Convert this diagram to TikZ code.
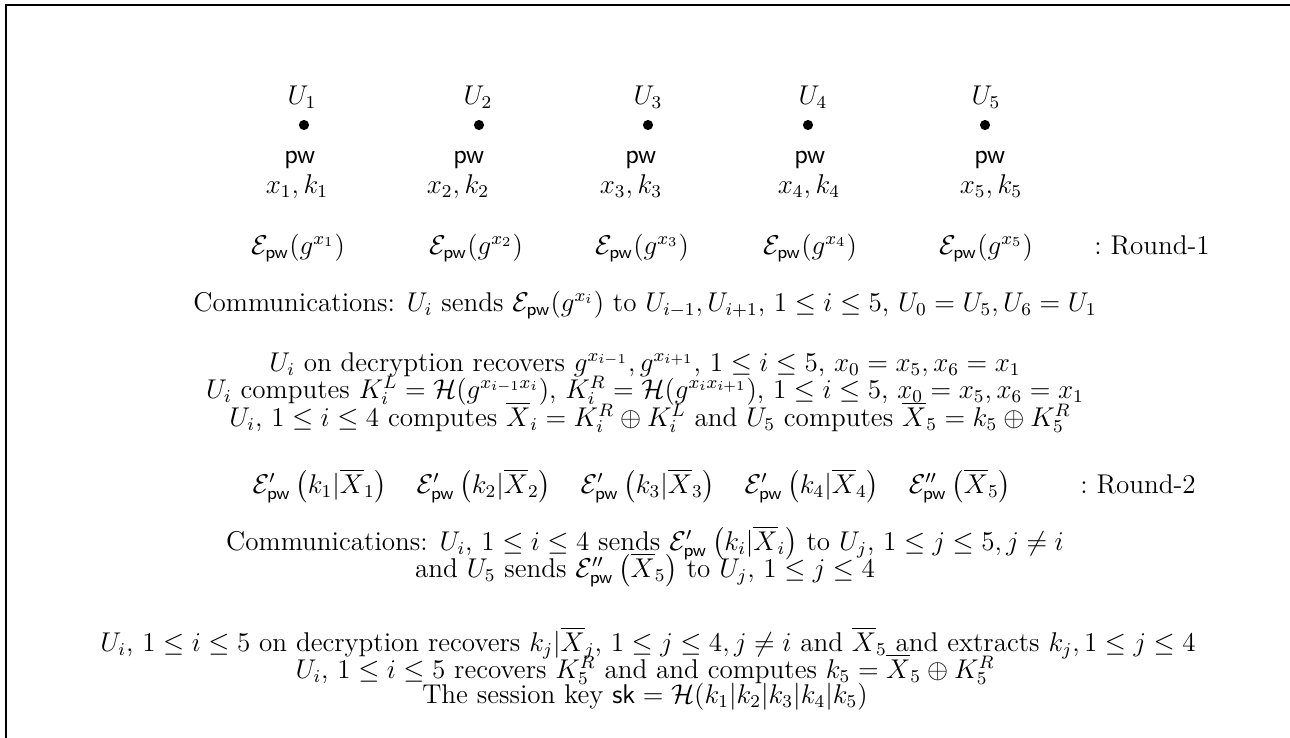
\documentclass[tikz,border=0pt]{standalone}
\usepackage{amsmath,amssymb}
\begin{document}
\begin{tikzpicture}[x=0.4425pt,y=-0.4425pt,
  every node/.append style={font=\fontsize{12}{14}\selectfont},
  txt/.style={inner sep=0pt,anchor=base},
  dotnode/.style={circle,fill=black,inner sep=0pt,minimum size=4.5pt},
  frame/.style={line width=1pt}]
\useasboundingbox (0,0) rectangle (1290,737);
\draw[frame] (6,745) -- (6,5) -- (1300,5);
% users
\foreach \i/\x in {1/302,2/478,3/648,4/813,5/986}{
  \node[txt] (U\i) at (\x,104) {$U_{\i}$};
}
\foreach \i/\x in {1/304,2/479,3/648,4/808,5/985}{
  \node[dotnode] (d\i) at (\x,125) {};
}
\foreach \i/\x in {1/300,2/469,3/641,4/810,5/990}{
  \node[txt] (pw\i) at (\x,163) {$\mathsf{pw}$};
}
\foreach \i/\x in {1/297,2/458,3/631,4/809,5/991}{
  \node[txt] (xk\i) at (\x,193) {$x_{\i},k_{\i}$};
}
\foreach \i/\x in {1/298,2/476,3/642,4/810,5/986}{
  \node[txt] (E\i) at (\x,254) {$\mathcal{E}_{\mathsf{pw}}(g^{x_{\i}})$};
}
\node[txt] (r1) at (1152,254) {$:$ Round-1};
\node[txt] (c1) at (645,311) {Communications: $U_i$ sends $\mathcal{E}_{\mathsf{pw}}(g^{x_i})$ to $U_{i-1},U_{i+1}$, $1\le i\le 5$, $U_0=U_5,U_6=U_1$};
\node[txt] (l1) at (645,371) {$U_i$ on decryption recovers $g^{x_{i-1}},g^{x_{i+1}}$, $1\le i\le 5$, $x_0=x_5,x_6=x_1$};
\node[txt] (l2) at (645,398) {$U_i$ computes $K_i^L=\mathcal{H}(g^{x_{i-1}x_i})$, $K_i^R=\mathcal{H}(g^{x_ix_{i+1}})$, $1\le i\le 5$, $x_0=x_5,x_6=x_1$};
\node[txt] (l3) at (650,426) {$U_i$, $1\le i\le 4$ computes $\overline{X}_i=K_i^R\oplus K_i^L$ and $U_5$ computes $\overline{X}_5=k_5\oplus K_5^R$};
\foreach \i/\x in {1/320,2/484,3/648,4/812}{
  \node[txt] (F\i) at (\x,493) {$\mathcal{E}'_{\mathsf{pw}}\left(k_{\i}|\overline{X}_{\i}\right)$};
}
\node[txt] (F5) at (960,493) {$\mathcal{E}''_{\mathsf{pw}}\left(\overline{X}_5\right)$};
\node[txt] (r2) at (1138,493) {$:$ Round-2};
\node[txt] (c2) at (645,550) {Communications: $U_i$, $1\le i\le 4$ sends $\mathcal{E}'_{\mathsf{pw}}\left(k_i|\overline{X}_i\right)$ to $U_j$, $1\le j\le 5,j\ne i$};
\node[txt] (c3) at (645,577) {and $U_5$ sends $\mathcal{E}''_{\mathsf{pw}}\left(\overline{X}_5\right)$ to $U_j$, $1\le j\le 4$};
\node[txt] (b1) at (648,651) {$U_i$, $1\le i\le 5$ on decryption recovers $k_j|\overline{X}_j$, $1\le j\le 4,j\ne i$ and $\overline{X}_5$ and extracts $k_j,1\le j\le 4$};
\node[txt] (b2) at (645,678) {$U_i$, $1\le i\le 5$ recovers $K_5^R$ and and computes $k_5=\overline{X}_5\oplus K_5^R$};
\node[txt] (b3) at (645,703) {The session key $\mathsf{sk}=\mathcal{H}(k_1|k_2|k_3|k_4|k_5)$};
\end{tikzpicture}
\end{document}
